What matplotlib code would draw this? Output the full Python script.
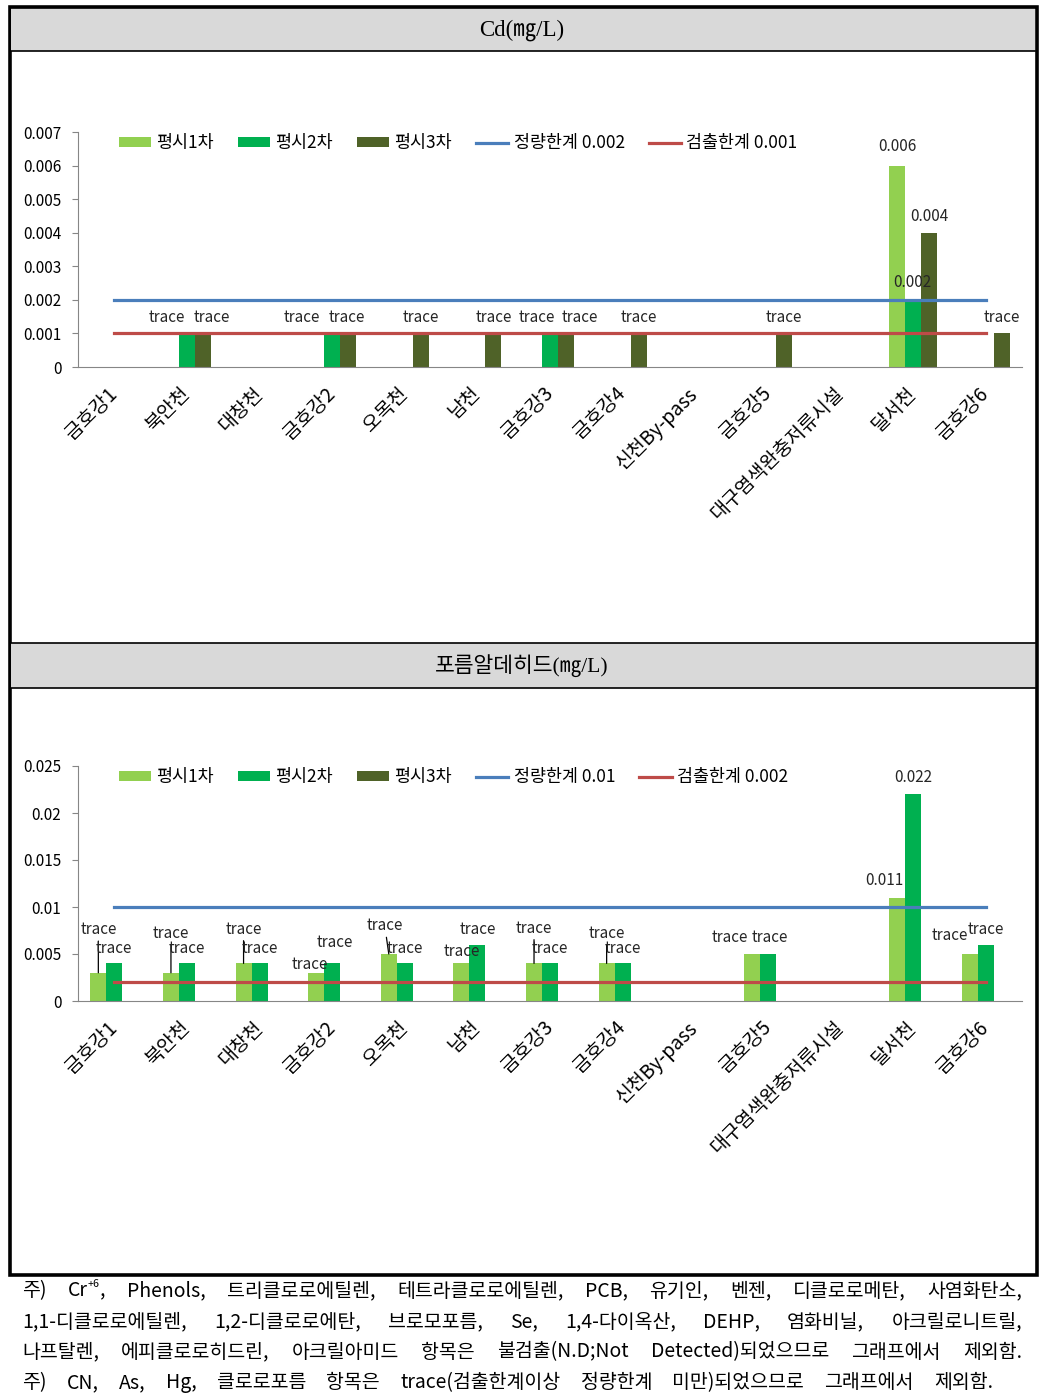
import matplotlib
matplotlib.use('Agg')
import matplotlib.pyplot as plt
from matplotlib.patches import Rectangle, Patch
from matplotlib.lines import Line2D
import numpy as np

plt.rcParams['font.family'] = ['Noto Sans CJK KR', 'DejaVu Sans']

# ---- data ----
sites = ['금호강1', '북안천', '대창천', '금호강2', '오목천', '남천', '금호강3', '금호강4',
         '신천By-pass', '금호강5', '대구염색완충저류시설', '달서천', '금호강6']
series_names = ['평시1차', '평시2차', '평시3차']

# Cd (mg/L), None = 불검출
cd_1 = [None, None, None, None, None, None, None, None, None, None, None, 0.006, None]
cd_2 = [None, 0.001, None, 0.001, None, None, 0.001, None, None, None, None, 0.002, None]
cd_3 = [None, 0.001, None, 0.001, 0.001, 0.001, 0.001, 0.001, None, 0.001, None, 0.004, 0.001]
cd_loq = 0.002
cd_lod = 0.001

# 포름알데히드 (mg/L)
hcho_1 = [0.003, 0.003, 0.004, 0.003, 0.005, 0.004, 0.004, 0.004, None, 0.005, None, 0.011, 0.005]
hcho_2 = [0.004, 0.004, 0.004, 0.004, 0.004, 0.006, 0.004, 0.004, None, 0.005, None, 0.022, 0.006]
hcho_3 = [None] * 13
hcho_loq = 0.01
hcho_lod = 0.002

footer_lines = [
    '주) Cr^+6, Phenols, 트리클로로에틸렌, 테트라클로로에틸렌, PCB, 유기인, 벤젠, 디클로로메탄, 사염화탄소,',
    '1,1-디클로로에틸렌, 1,2-디클로로에탄, 브로모포름, Se, 1,4-다이옥산, DEHP, 염화비닐, 아크릴로니트릴,',
    '나프탈렌, 에피클로로히드린, 아크릴아미드 항목은 불검출(N.D;Not Detected)되었으므로 그래프에서 제외함.',
    '주) CN, As, Hg, 클로로포름 항목은 trace(검출한계이상 정량한계 미만)되었으므로 그래프에서 제외함.',
]

bar_colors = ['#92d050', '#00b050', '#4f6228']
loq_color = '#4a7ebb'
lod_color = '#be4b48'
axis_gray = '#868686'

W, H = 1062, 1399
fig = plt.figure(figsize=(W / 100, H / 100), dpi=100)
renderer = fig.canvas.get_renderer()

# background / frame drawn in pixel coordinates
bg = fig.add_axes([0, 0, 1, 1], zorder=-1)
bg.set_xlim(0, W)
bg.set_ylim(H, 0)
bg.axis('off')
bg.add_patch(Rectangle((9.5, 6.5), 1027, 1268.5, facecolor='white', edgecolor='black', lw=2.6))
for y0, y1 in [(8, 51), (643, 688)]:
    bg.add_patch(Rectangle((11, y0), 1024, y1 - y0, facecolor='#d9d9d9', edgecolor='none'))
    bg.plot([11, 1035], [y0, y0], color='black', lw=1.2)
    bg.plot([11, 1035], [y1, y1], color='black', lw=1.2)
bg.text(522, 30, 'Cd(㎎/L)', ha='center', va='center', fontsize=16.5,
        family=['Liberation Serif', 'Noto Sans CJK KR'])
bg.text(522, 666, '포름알데히드(㎎/L)', ha='center', va='center', fontsize=15.5,
        family=['Liberation Serif', 'Noto Sans CJK KR'])


def draw_panel(ax, series, loq, lod, ymax, ystep, offsets, leaders, default_dy, leg_labels):
    x = np.arange(len(sites))
    width = 0.22
    for i, vals in enumerate(series):
        xs = [x[j] + (i - 1) * width for j, v in enumerate(vals) if v is not None]
        hs = [v for v in vals if v is not None]
        ax.bar(xs, hs, width=width, color=bar_colors[i], zorder=2)
        for j, v in enumerate(vals):
            if v is None:
                continue
            txt = 'trace' if v < loq else f'{v:g}'
            dx, dy = offsets.get((j, i), (0, default_dy))
            arrow = None
            if (j, i) in leaders:
                arrow = dict(arrowstyle='-', color='black', lw=0.9, shrinkA=0, shrinkB=0)
            ax.annotate(txt, xy=(x[j] + (i - 1) * width, v), xytext=(dx, dy),
                        textcoords='offset pixels', ha='center', va='center',
                        fontsize=11, color='#262626', arrowprops=arrow, zorder=4)
    ax.plot(x, [loq] * len(x), color=loq_color, lw=2.3, zorder=3)
    ax.plot(x, [lod] * len(x), color=lod_color, lw=2.3, zorder=3)

    ax.set_xlim(-0.5, len(sites) - 0.5)
    ax.set_ylim(0, ymax)
    ticks = np.round(np.arange(0, ymax + ystep / 2, ystep), 4)
    ax.set_yticks(ticks)
    ax.set_yticklabels(['0' if t == 0 else f'{t:g}' for t in ticks], fontsize=11)
    ax.set_xticks(x)
    ax.set_xticklabels(sites, rotation=45, ha='right', va='center',
                       rotation_mode='anchor', fontsize=14)
    ax.tick_params(axis='x', length=0, pad=17)
    ax.tick_params(axis='y', length=4, color=axis_gray, pad=8)
    for s in ['top', 'right']:
        ax.spines[s].set_visible(False)
    for s in ['left', 'bottom']:
        ax.spines[s].set_color(axis_gray)
    ax.set_facecolor('none')

    handles = [Patch(facecolor=c, edgecolor='none') for c in bar_colors]
    handles += [Line2D([], [], color=loq_color, lw=2.3), Line2D([], [], color=lod_color, lw=2.3)]
    ax.legend(handles, series_names + leg_labels, ncol=5, loc='upper left',
              bbox_to_anchor=(0.043, 0.99), frameon=False, fontsize=12.5,
              handlelength=1.85, handleheight=0.45, handletextpad=0.3,
              columnspacing=1.4, borderpad=0, borderaxespad=0)


ax1 = fig.add_axes([78 / W, 1 - 367 / H, 944 / W, 235 / H])
top_offsets = {(1, 1): (-20, 16), (1, 2): (9, 16), (3, 1): (-30, 16), (3, 2): (-1, 16),
               (6, 1): (-13, 16), (6, 2): (14, 16), (11, 0): (0, 19), (11, 1): (-1, 17)}
draw_panel(ax1, [cd_1, cd_2, cd_3], cd_loq, cd_lod, 0.007, 0.001, top_offsets, set(), 16,
           ['정량한계 0.002', '검출한계 0.001'])

ax2 = fig.add_axes([78 / W, 1 - 1001 / H, 944 / W, 235 / H])
bot_offsets = {(0, 0): (0, 43), (1, 0): (0, 39), (2, 0): (0, 34), (3, 0): (-6, 8),
               (4, 0): (-4, 28), (5, 0): (0, 12), (6, 0): (0, 35), (7, 0): (0, 30),
               (9, 0): (-22, 16), (11, 0): (-13, 17), (12, 0): (-20, 18),
               (3, 1): (3, 21), (9, 1): (2, 16), (11, 1): (0, 17)}
bot_leaders = {(0, 0), (1, 0), (2, 0), (4, 0), (6, 0), (7, 0)}
draw_panel(ax2, [hcho_1, hcho_2, hcho_3], hcho_loq, hcho_lod, 0.025, 0.005, bot_offsets,
           bot_leaders, 15, ['정량한계 0.01', '검출한계 0.002'])


# ---- footnotes, spread across the width like justified text ----
fs = 14


def put_word(x0, y, word):
    # word may carry a superscript as 'base^sup,rest'
    if '^' in word:
        base, rest = word.split('^')
        sup, tail = rest[:2], rest[2:]
        t = bg.text(x0, y, base, ha='left', va='center', fontsize=fs)
        x1 = x0 + t.get_window_extent(renderer).width
        t = bg.text(x1, y - 7, sup, ha='left', va='center', fontsize=fs * 0.55)
        x1 += t.get_window_extent(renderer).width
        t = bg.text(x1, y, tail, ha='left', va='center', fontsize=fs)
        return x1 + t.get_window_extent(renderer).width - x0
    t = bg.text(x0, y, word, ha='left', va='center', fontsize=fs)
    return t.get_window_extent(renderer).width


targets = [1022, 1022, 1022, 993]
for k, line in enumerate(footer_lines):
    y = 1291 + 30.5 * k
    words = line.split(' ')
    # measure first with throwaway texts
    widths = []
    for w in words:
        n0 = len(bg.texts)
        widths.append(put_word(0, -100, w))
        for t in bg.texts[n0:]:
            t.remove()
    gap = max((targets[k] - 22 - sum(widths)) / (len(words) - 1), 4)
    xpos = 22
    for w, wd in zip(words, widths):
        put_word(xpos, y, w)
        xpos += wd + gap

fig.savefig('out.png', dpi=100)
